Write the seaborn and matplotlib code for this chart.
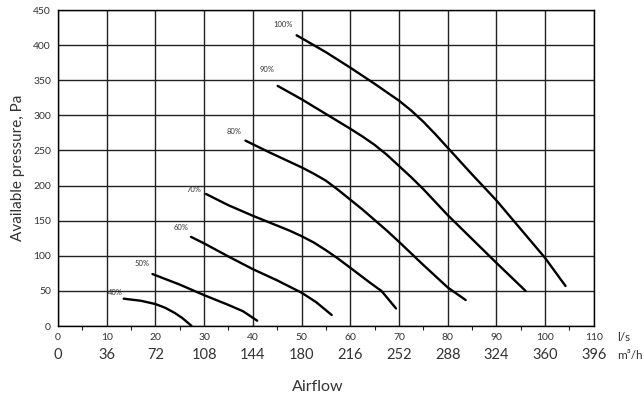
import numpy as np
import pandas as pd
import seaborn as sns
import matplotlib.pyplot as plt

# fan curves, airflow l/s vs available pressure Pa
speeds = ['40%', '50%', '60%', '70%', '80%', '90%', '100%']

x_40 = [13.5, 17, 20, 22, 24, 25.5, 27.4]
y_40 = [38.9, 36, 31.3, 26, 18.5, 11.5, 0.4]
x_50 = [19.4, 25, 30, 35, 38, 40.9]
y_50 = [74, 59, 44, 30, 21, 7.6]
x_60 = [27.3, 30, 35, 40, 45, 50, 53, 56.2]
y_60 = [127, 117.7, 99, 81, 65, 47.5, 34, 15.7]
x_70 = [30.4, 35, 40, 45, 47.5, 50, 52.5, 55, 57.5, 60, 64, 66.4, 67.5, 69.4]
y_70 = [188, 172, 157, 143, 136, 128, 119, 108, 96, 83, 62, 50, 41, 25]
x_80 = [38.5, 43.5, 50, 52.5, 55, 57.5, 60, 62.5, 65, 67.5, 70, 75, 80, 83.7]
y_80 = [264, 247, 226, 217, 207, 194, 180, 166, 151, 136, 120, 87, 55, 37]
x_90 = [45.1, 50, 55, 60, 62.5, 65, 67.5, 70, 72.5, 75, 80, 85, 90, 96]
y_90 = [342, 323, 302, 281, 270, 258, 244, 228, 212, 195, 158, 124, 90, 50]
x_100 = [49, 55, 60, 65, 70, 72.5, 75, 77.5, 80, 85, 90, 95, 100, 104.2]
y_100 = [414, 390, 368, 345, 321, 307, 291, 273, 254, 216, 179, 138, 97, 57]

curves_x = [x_40, x_50, x_60, x_70, x_80, x_90, x_100]
curves_y = [y_40, y_50, y_60, y_70, y_80, y_90, y_100]

ls_ticks = [0, 10, 20, 30, 40, 50, 60, 70, 80, 90, 100, 110]
m3h_ticks = [0, 36, 72, 108, 144, 180, 216, 252, 288, 324, 360, 396]
pa_ticks = [0, 50, 100, 150, 200, 250, 300, 350, 400, 450]

rows = []
for name, xs, ys in zip(speeds, curves_x, curves_y):
    for i, (a, b) in enumerate(zip(xs, ys)):
        rows.append({'speed': name, 'order': i, 'airflow': a, 'pressure': b})
df = pd.DataFrame(rows)

sns.set_style('white')
plt.rcParams['font.family'] = ['Lato', 'DejaVu Sans']
txt = '#333333'

fig = plt.figure(figsize=(6.44, 4.01), dpi=100)
ax = fig.add_axes([0.090, 0.187, 0.832, 0.788])

sns.lineplot(data=df, x='airflow', y='pressure', units='speed', estimator=None,
             sort=False, color='black', linewidth=1.7, ax=ax)

# label offsets in points from the curve start
offs = [(-1, 2), (-2, 5), (-2, 4), (-3, 1), (-3, 4), (-2, 9), (-3, 5)]
for name, xs, ys, o in zip(speeds, curves_x, curves_y, offs):
    ax.annotate(name, (xs[0], ys[0]), xytext=o, textcoords='offset points',
                ha='right', va='bottom', fontsize=5.5, color=txt)

ax.set_xlim(0, 110)
ax.set_ylim(0, 450)
ax.set_xticks(ls_ticks)
ax.set_xticks(np.arange(5, 110, 10), minor=True)
ax.set_yticks(pa_ticks)
ax.grid(True, which='major', color='#222222', linewidth=1)
ax.tick_params(axis='both', which='both', direction='out', length=3, width=0.8,
               colors='#222222', labelcolor=txt, labelsize=7.5, pad=2)
ax.tick_params(axis='x', which='minor', bottom=True)
for s in ax.spines.values():
    s.set_color('black')
    s.set_linewidth(1)

sec = ax.secondary_xaxis(-0.07, functions=(lambda v: v * 3.6, lambda v: v / 3.6))
sec.set_xticks(m3h_ticks)
sec.tick_params(length=0, labelsize=10.5, labelcolor=txt, pad=0)
sec.spines['bottom'].set_visible(False)

ax.text(1.043, -0.035, 'l/s', transform=ax.transAxes, fontsize=8.5, color=txt, va='center')
ax.text(1.043, -0.092, 'm³/h', transform=ax.transAxes, fontsize=8.5, color=txt, va='center')

ax.set_xlabel('')
ax.set_ylabel('Available pressure, Pa', fontsize=11, color=txt, labelpad=6)
fig.text(0.494, 0.035, 'Airflow', fontsize=11.5, color=txt, ha='center', va='center')

plt.savefig('out.png', dpi=100)
